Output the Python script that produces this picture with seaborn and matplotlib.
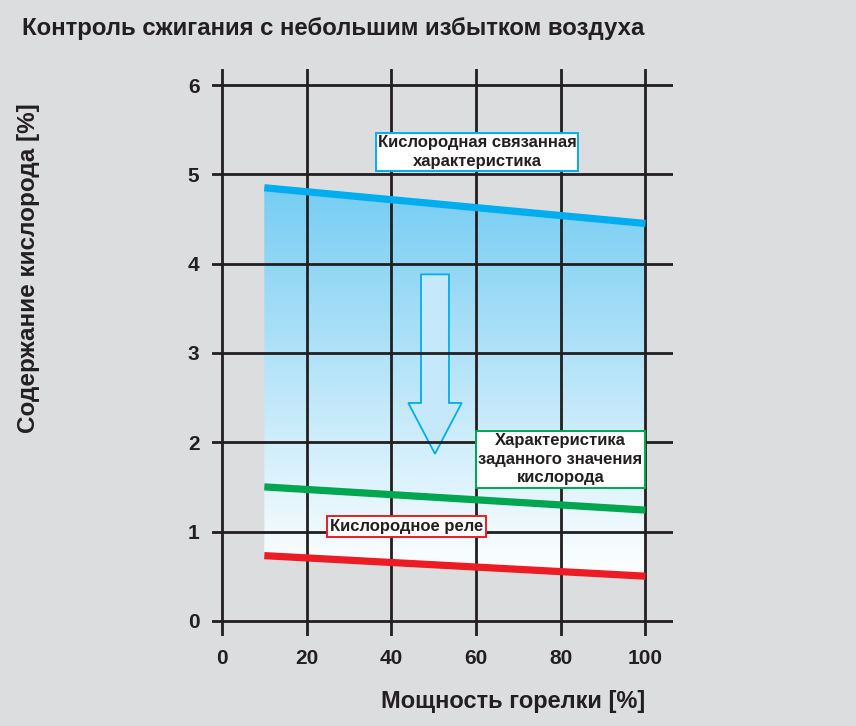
import numpy as np
import pandas as pd
import matplotlib
matplotlib.use('Agg')
import matplotlib.pyplot as plt
import seaborn as sns
from matplotlib.colors import LinearSegmentedColormap
from matplotlib.patches import Polygon

# ── Data ─────────────────────────────────────────────────
burner_load = [10, 100]               # Мощность горелки [%]
o2_bound = [4.85, 4.45]               # Кислородная связанная характеристика
o2_setpoint = [1.50, 1.24]            # Характеристика заданного значения
o2_relay = [0.73, 0.50]               # Кислородное реле
x_ticks = [0, 20, 40, 60, 80, 100]
y_ticks = [0, 1, 2, 3, 4, 5, 6]

title = 'Контроль сжигания с небольшим избытком воздуха'
x_label = 'Мощность горелки [%]'
y_label = 'Содержание кислорода [%]'
label_bound = 'Кислородная связанная\nхарактеристика'
label_setpoint = 'Характеристика\nзаданного значения\nкислорода'
label_relay = 'Кислородное реле'

# ── Style ────────────────────────────────────────────────
BG = '#dcdddf'
INK = '#231f20'
BLUE = '#00aeef'
GREEN = '#00a650'
RED = '#ed1c24'

sns.set_style('white', {'axes.facecolor': BG, 'figure.facecolor': BG})
plt.rcParams['font.family'] = ['Liberation Sans', 'DejaVu Sans']
plt.rcParams['font.weight'] = 'bold'

fig = plt.figure(figsize=(8.56, 7.26), dpi=100)
ax = fig.add_axes([212 / 856, 90 / 726, 461 / 856, 567 / 726])
ax.set_facecolor(BG)

df = pd.DataFrame({'x': burner_load, 'bound': o2_bound,
                   'setpoint': o2_setpoint, 'relay': o2_relay})

# ── Gradient area between relay line and bound line ──────
cmap = LinearSegmentedColormap.from_list('o2', ['#ffffff', '#76cdf3'])
grad = np.linspace(0, 1, 256).reshape(-1, 1)
img = ax.imshow(grad, extent=[burner_load[0], burner_load[-1], 0.5, 4.85],
                origin='lower', aspect='auto', cmap=cmap, zorder=0.5)
area = ax.fill_between(df['x'], df['relay'], df['bound'], color='none', lw=0)
img.set_clip_path(area.get_paths()[0], transform=ax.transData)

# ── Lines ────────────────────────────────────────────────
for col, c in [('bound', BLUE), ('setpoint', GREEN), ('relay', RED)]:
    sns.lineplot(data=df, x='x', y=col, color=c, lw=5.2, ax=ax,
                 solid_capstyle='butt', zorder=3)

# ── Down arrow ───────────────────────────────────────────
ax_c = 50.3
arrow = Polygon([(ax_c - 3.3, 3.88), (ax_c + 3.3, 3.88), (ax_c + 3.3, 2.44),
                 (ax_c + 6.3, 2.44), (ax_c, 1.87), (ax_c - 6.3, 2.44),
                 (ax_c - 3.3, 2.44)],
                closed=True, facecolor='#c5e9fa', edgecolor=BLUE, lw=1.3, zorder=2.5)
ax.add_patch(arrow)

# ── Label boxes ──────────────────────────────────────────
box_kw = dict(ha='center', va='center', fontsize=12, color=INK,
              fontweight='bold', linespacing=1.3, zorder=4)
ax.text(60.2, 5.25, label_bound,
        bbox=dict(boxstyle='square,pad=0.12', fc='white', ec=BLUE, lw=1.4), **box_kw)
ax.text(79.9, 1.81, label_setpoint,
        bbox=dict(boxstyle='square,pad=0.15', fc='white', ec=GREEN, lw=1.4), **box_kw)
ax.text(43.6, 1.06, label_relay,
        bbox=dict(boxstyle='square,pad=0.18', fc='white', ec=RED, lw=1.4), **box_kw)

# ── Axes & grid ──────────────────────────────────────────
ax.set_xlim(-2.35, 106.5)
ax.set_ylim(-0.17, 6.18)
ax.set_xticks(x_ticks)
ax.set_yticks(y_ticks)
ax.grid(True, color=INK, lw=2.0, zorder=1)
ax.set_axisbelow(False)
for gl in ax.get_xgridlines() + ax.get_ygridlines():
    gl.set_zorder(1)
sns.despine(ax=ax, left=True, bottom=True)
ax.tick_params(length=0, labelsize=15, colors=INK)
ax.tick_params(axis='y', pad=9)
ax.tick_params(axis='x', pad=9)
for lbl in ax.get_xticklabels() + ax.get_yticklabels():
    lbl.set_fontweight('bold')

ax.set_xlabel(x_label, fontsize=17, fontweight='bold', color=INK, ha='right')
ax.xaxis.set_label_coords(0.939, -0.095)
ax.set_ylabel(y_label, fontsize=17.5, fontweight='bold', color=INK)
ax.yaxis.set_label_coords(-0.373, 0.649)

fig.text(22 / 856, 1 - 28 / 726, title, fontsize=17.3, fontweight='bold',
         color=INK, ha='left', va='center')

fig.savefig('out.png', dpi=100, facecolor=BG)
